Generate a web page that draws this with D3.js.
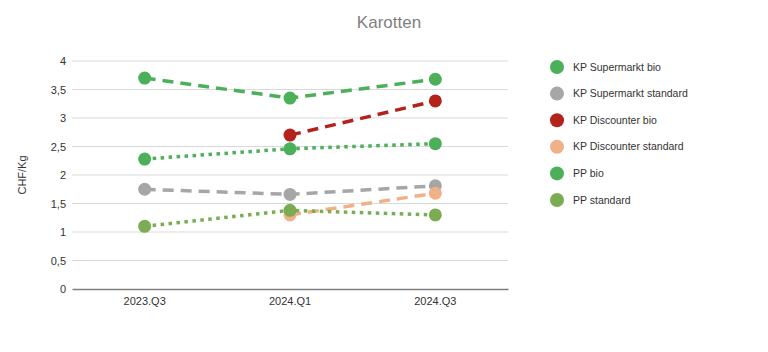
<!DOCTYPE html>
<html><head><meta charset="utf-8">
<script src="https://cdn.jsdelivr.net/npm/d3@7"></script>
<style>body{margin:0;background:#fff;} text{font-family:"Liberation Sans",Arial,sans-serif;}</style>
</head><body><svg id="c" width="768" height="352"></svg>
<script>
const categories = ["2023.Q3","2024.Q1","2024.Q3"];
const seriesNames = ["KP Supermarkt bio","KP Supermarkt standard","KP Discounter bio","KP Discounter standard","PP bio","PP standard"];
const supermarktBio = [3.70, 3.35, 3.68];
const supermarktStd = [1.75, 1.66, 1.81];
const discounterBio = [null, 2.70, 3.30];
const discounterStd = [null, 1.30, 1.68];
const ppBio = [2.28, 2.46, 2.55];
const ppStd = [1.10, 1.38, 1.30];
const yTicks = [0,0.5,1,1.5,2,2.5,3,3.5,4];
const colors = ["#4CAF5A","#A6A6A6","#B3231B","#F0B088","#4CAF5A","#7BAB52"];
const styles = ["dash","dash","dash","dash","dot","dot"];
const seriesValues = [supermarktBio, supermarktStd, discounterBio, discounterStd, ppBio, ppStd];

const svg = d3.select("#c");
const x = d3.scaleBand().domain(categories).range([72,508]);
const y = d3.scaleLinear().domain([0,4]).range([289,61]);
const fmt = d => String(d).replace(".", ",");

// gridlines
svg.append("g").selectAll("line").data(yTicks.filter(d=>d>0)).join("line")
  .attr("x1",72).attr("x2",508).attr("y1",d=>y(d)).attr("y2",d=>y(d))
  .attr("stroke","#d9d9d9").attr("stroke-width",1);

// y axis labels
const ya = svg.append("g").attr("transform","translate(72,0)")
  .call(d3.axisLeft(y).tickValues(yTicks).tickFormat(fmt).tickSize(0).tickPadding(6));
ya.select(".domain").remove();
ya.selectAll("text").attr("font-size",11).attr("fill","#333");

// x axis
const xa = svg.append("g").attr("transform","translate(0,289)")
  .call(d3.axisBottom(x).tickSize(0).tickPadding(8));
xa.select(".domain").attr("stroke","#7f7f7f").attr("stroke-width",1.5);
xa.selectAll("text").attr("font-size",11).attr("fill","#333");

// title
svg.append("text").attr("x",389).attr("y",28).attr("text-anchor","middle")
  .attr("font-size",17).attr("fill","#7f7f7f").text("Karotten");
// y label
svg.append("text").attr("transform","translate(26,175) rotate(-90)").attr("text-anchor","middle")
  .attr("font-size",11).attr("fill","#333").text("CHF/Kg");

const cx = c => x(c) + x.bandwidth()/2;
const line = d3.line().defined(d=>d.v!=null).x(d=>cx(d.c)).y(d=>y(d.v));

seriesValues.forEach((vals,i)=>{
  const pts = categories.map((c,j)=>({c, v: vals[j]}));
  svg.append("path").datum(pts).attr("d",line).attr("fill","none")
    .attr("stroke",colors[i]).attr("stroke-width",3.5)
    .attr("stroke-dasharray", styles[i]==="dash" ? "11,7" : "3.5,4.5");
  svg.append("g").selectAll("circle").data(pts.filter(d=>d.v!=null)).join("circle")
    .attr("cx",d=>cx(d.c)).attr("cy",d=>y(d.v)).attr("r",6.5).attr("fill",colors[i]);
});

// legend
const lg = svg.append("g").selectAll("g").data(seriesNames).join("g")
  .attr("transform",(d,i)=>`translate(557,${67+i*26.6})`);
lg.append("circle").attr("r",7).attr("fill",(d,i)=>colors[i]);
lg.append("text").attr("x",16).attr("dy","0.35em").attr("font-size",10.5).attr("fill","#333").text(d=>d);
</script></body></html>
